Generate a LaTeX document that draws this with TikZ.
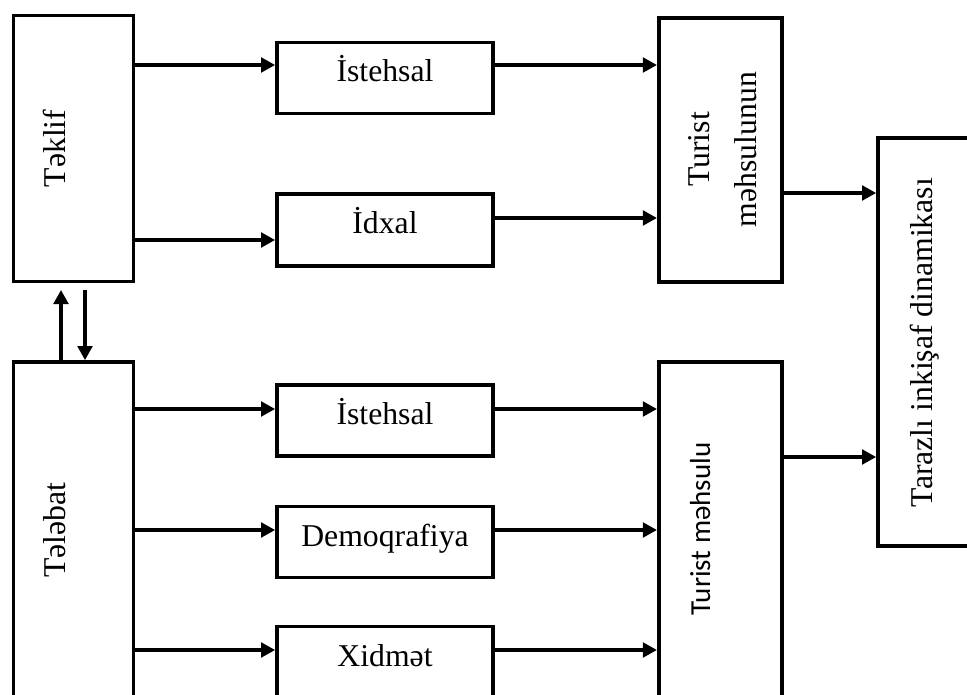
\documentclass[tikz,border=0pt]{standalone}
\usepackage{fontspec}
\setmainfont{Liberation Serif}
\newfontfamily\labelsans{Carlito}
\usetikzlibrary{arrows.meta}
\begin{document}
\begin{tikzpicture}[x=0.75pt, y=-0.75pt,
  bx/.style 2 args={draw, line width=2.85pt, inner sep=0pt,
    minimum width=#1*0.75pt, minimum height=#2*0.75pt},
  lbl/.style={inner sep=0pt, font=\fontsize{23.8}{35.7}\selectfont},
  vlbl/.style={lbl, rotate=90, anchor=base},
  arr/.style={line width=2.3pt, -{Triangle[length=10.5pt, width=11pt]}}]
\useasboundingbox (0,0) rectangle (967,695);
\clip (0,0) rectangle (967,695);
\fill[white] (0,0) rectangle (967,695);

% left column: supply and demand
\node[bx={120}{266}] (tek) at (73.5,148.5) {};
\node[bx={120}{336}] (tel) at (73.5,530) {};
\node[vlbl] (tekT) at (65,148.5) {Təklif};
\node[vlbl] (telT) at (65,530) {Tələbat};

% middle column: factors
\node[bx={216}{71}]   (ist1) at (385,78) {};
\node[bx={216}{71.5}] (idx)  at (385,230) {};
\node[bx={216}{71}]   (ist2) at (385,420.5) {};
\node[bx={216}{71}]   (dem)  at (385,542) {};
\node[bx={216}{71}]   (xid)  at (385,662) {};
\node[lbl, anchor=base] (ist1T) at ([yshift=-3pt]ist1.center) {İstehsal};
\node[lbl, anchor=base] (idxT)  at ([yshift=-2.3pt]idx.center) {İdxal};
\node[lbl, anchor=base] (ist2T) at ([yshift=-3pt]ist2.center) {İstehsal};
\node[lbl, anchor=base] (demT)  at ([yshift=-3.5pt]dem.center) {Demoqrafiya};
\node[lbl, anchor=base] (xidT)  at ([yshift=-3.5pt]xid.center) {Xidmət};

% tourist product boxes
\node[bx={123}{264}] (tm1) at (720.3,149.7) {};
\node[bx={123}{336}] (tm2) at (720.3,530) {};
\node[lbl, rotate=90, align=center] (tm1T) at (722.5,149.5) {Turist\\məhsulunun};
\node[rotate=90, anchor=base, inner sep=0pt,
      font=\labelsans\fontsize{21.75}{26}\selectfont] (tm2T) at (710,529) {Turist məhsulu};

% outcome box
\node[bx={117}{408}] (rgt) at (936.5,342) {};
\node[vlbl] (rgtT) at (932,342.5) {Tarazlı inkişaf dinamikası};

% arrow levels
\coordinate (r1) at (0,65);
\coordinate (r2in) at (0,240);
\coordinate (r2out) at (0,218);
\coordinate (r3) at (0,409);
\coordinate (r4) at (0,530);
\coordinate (r5) at (0,650);
\coordinate (o1) at (0,193);
\coordinate (o2) at (0,457);
\coordinate (up) at (61,290);
\coordinate (dn) at (85,290);

\draw[arr] (tek.east |- r1) -- (ist1.west |- r1);
\draw[arr] (tek.east |- r2in) -- (idx.west |- r2in);
\draw[arr] (ist1.east |- r1) -- (tm1.west |- r1);
\draw[arr] (idx.east |- r2out) -- (tm1.west |- r2out);

\draw[arr] (tel.east |- r3) -- (ist2.west |- r3);
\draw[arr] (tel.east |- r4) -- (dem.west |- r4);
\draw[arr] (tel.east |- r5) -- (xid.west |- r5);
\draw[arr] (ist2.east |- r3) -- (tm2.west |- r3);
\draw[arr] (dem.east |- r4) -- (tm2.west |- r4);
\draw[arr] (xid.east |- r5) -- (tm2.west |- r5);

\draw[arr] (tm1.east |- o1) -- (rgt.west |- o1);
\draw[arr] (tm2.east |- o2) -- (rgt.west |- o2);

\draw[arr] (tel.north -| up) -- (up);
\draw[arr] (dn) -- (tel.north -| dn);
\end{tikzpicture}
\end{document}
